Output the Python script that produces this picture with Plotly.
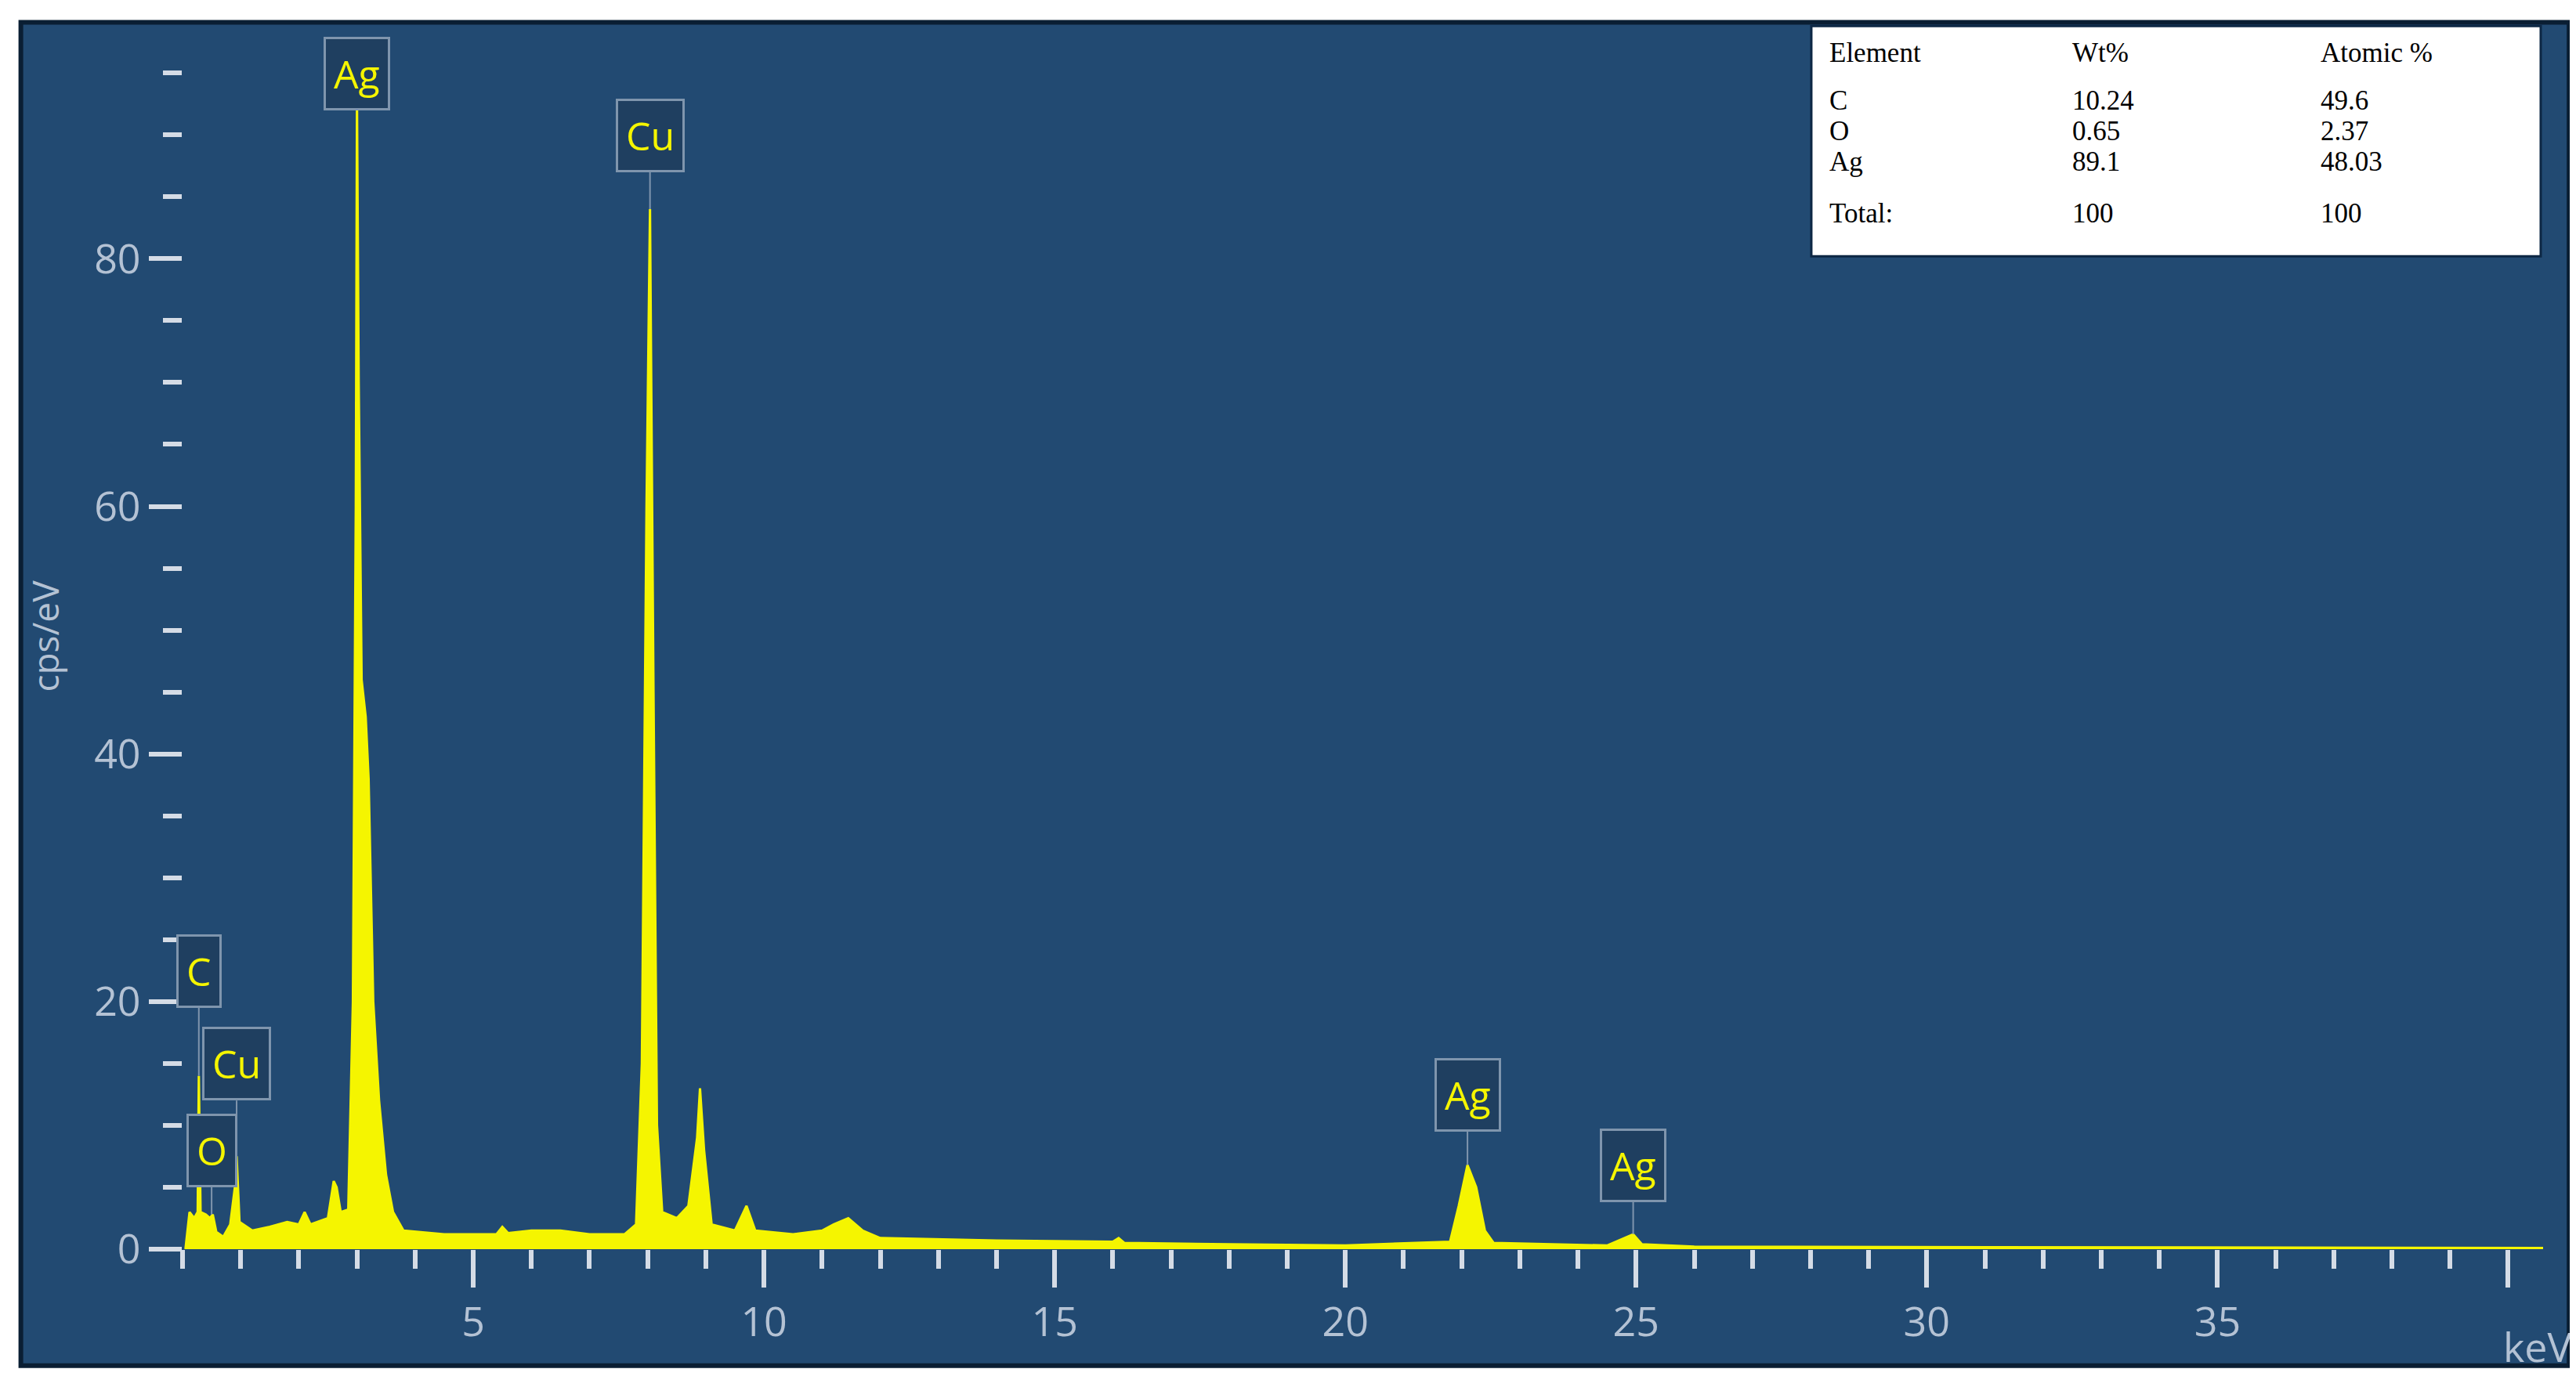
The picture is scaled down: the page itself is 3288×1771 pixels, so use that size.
import plotly.graph_objects as go

# EDS spectrum (keV, cps/eV)
energy = [0.05, 0.12, 0.2, 0.26, 0.28, 0.31, 0.4, 0.47, 0.52, 0.58, 0.7, 0.82, 0.9, 0.93, 0.98,
          1.2, 1.5, 1.8, 2.0, 2.1, 2.2, 2.5, 2.6, 2.65, 2.72, 2.85, 2.93, 2.98, 3.0, 3.03, 3.08,
          3.15, 3.2, 3.28, 3.38, 3.5, 3.62, 3.8, 4.5, 5.0, 5.4, 5.5, 5.6, 6.0, 6.5, 7.0, 7.6,
          7.8, 7.9, 7.98, 8.04, 8.1, 8.16, 8.25, 8.5, 8.7, 8.85, 8.9, 8.97, 9.1, 9.5, 9.7, 9.85,
          10.5, 11.0, 11.2, 11.45, 11.7, 12.0, 14.0, 16.0, 16.1, 16.2, 18.0, 20.0, 21.8, 21.95,
          22.1, 22.25, 22.4, 22.55, 24.5, 24.85, 24.95, 25.1, 26.0, 40.6]
counts = [0, 3, 2.5, 3, 14, 3, 2.8, 2.5, 2.8, 1.4, 1.0, 2.0, 5.0, 7.5, 2.2,
          1.5, 1.8, 2.2, 2.0, 3.0, 2.0, 2.5, 5.5, 5.0, 3.0, 3.2, 20, 60, 93, 70, 46,
          43, 38, 20, 12, 6, 3, 1.5, 1.2, 1.2, 1.2, 1.8, 1.3, 1.5, 1.5, 1.2, 1.2,
          2.0, 15, 60, 84, 45, 10, 3, 2.5, 3.5, 9, 13, 8, 2, 1.5, 3.5, 1.5,
          1.2, 1.5, 2.0, 2.5, 1.5, 0.9, 0.7, 0.6, 0.9, 0.5, 0.4, 0.3, 0.6, 3.5,
          6.8, 5.0, 1.5, 0.5, 0.3, 1.0, 1.2, 0.4, 0.2, 0.1]

# peak labels
peak_names = ["C", "O", "Cu", "Ag", "Cu", "Ag", "Ag"]
peak_x = [0.28, 0.5, 0.93, 3.0, 8.04, 22.1, 24.95]
peak_y = [14, 2.8, 7.5, 93, 84, 6.8, 1.2]
label_y = [19.5, 5, 12, 92, 87, 9.5, 3.8]

# quantification table
elements = ["C", "O", "Ag"]
wt_pct = ["10.24", "0.65", "89.1"]
at_pct = ["49.6", "2.37", "48.03"]

bg = "#224a72"
tick_col = "#d5dce6"
lab_col = "#b4c2d4"

fig = go.Figure()
fig.add_trace(go.Scatter(x=energy, y=counts, mode="lines", fill="tozeroy",
                         line=dict(color="#f5f500", width=3), fillcolor="#f5f500",
                         showlegend=False, hoverinfo="skip"))

for name, px, py, ly in zip(peak_names, peak_x, peak_y, label_y):
    fig.add_annotation(x=px, y=py, ax=px, ay=ly, axref="x", ayref="y",
                       text=name, showarrow=True, arrowhead=0, arrowwidth=2,
                       arrowcolor="#7f95ad", font=dict(color="#f5f500", size=50,
                       family="Open Sans"), bgcolor="#1f3f60", bordercolor="#7f95ad",
                       borderwidth=3, borderpad=10, yanchor="bottom")

fig.add_annotation(x=40.5, y=-0.055, xref="x", yref="paper", text="keV",
                   showarrow=False, yanchor="top", font=dict(color=lab_col, size=52))

# table box
fig.add_shape(type="rect", xref="paper", yref="paper", x0=0.69, x1=0.999, y0=0.81,
              y1=0.998, fillcolor="white", line=dict(color="#0d2744", width=3), layer="above")
cols = [0.697, 0.8, 0.905]
rows_y = [0.976, 0.937, 0.912, 0.887, 0.845]
tf = dict(color="black", size=35, family="Liberation Serif")
headers = ["Element", "Wt%", "Atomic %"]
table_rows = [headers] + [[e, w, a] for e, w, a in zip(elements, wt_pct, at_pct)] + [["Total:", "100", "100"]]
for r, yy in zip(table_rows, rows_y):
    for c, xx in zip(r, cols):
        fig.add_annotation(x=xx, y=yy, xref="paper", yref="paper", text=c, showarrow=False,
                           xanchor="left", yanchor="middle", font=tf)

# blue panel with dark frame behind the whole chart
fig.add_shape(type="rect", xref="paper", yref="paper", x0=-0.0685, x1=1.011, y0=-0.095,
              y1=1.001, line=dict(color="#0a1e33", width=6), fillcolor=bg,
              layer="below")

fig.update_layout(
    width=3288, height=1771,
    margin=dict(l=225, r=50, t=22, b=184),
    paper_bgcolor="white", plot_bgcolor=bg,
    font=dict(family="Open Sans", color=lab_col),
)
fig.update_xaxes(range=[0, 40.6], showgrid=False, zeroline=False, showline=False,
                 tickvals=[5, 10, 15, 20, 25, 30, 35, 40], ticktext=["5", "10", "15", "20", "25", "30", "35", ""],
                 ticks="outside", ticklen=48, tickwidth=6, tickcolor=tick_col,
                 tickfont=dict(size=52, color=lab_col),
                 minor=dict(dtick=1, ticks="outside", ticklen=24, tickwidth=6, tickcolor=tick_col))
fig.update_yaxes(range=[0, 99], showgrid=False, zeroline=False, showline=False,
                 tickvals=[0, 20, 40, 60, 80], ticks="outside", ticklen=42, tickwidth=6,
                 tickcolor=tick_col, tickfont=dict(size=52, color=lab_col),
                 minor=dict(dtick=5, ticks="outside", ticklen=24, tickwidth=6, tickcolor=tick_col),
                 title=dict(text="cps/eV", font=dict(size=46, color=lab_col), standoff=30))

fig.write_html("out.html")
